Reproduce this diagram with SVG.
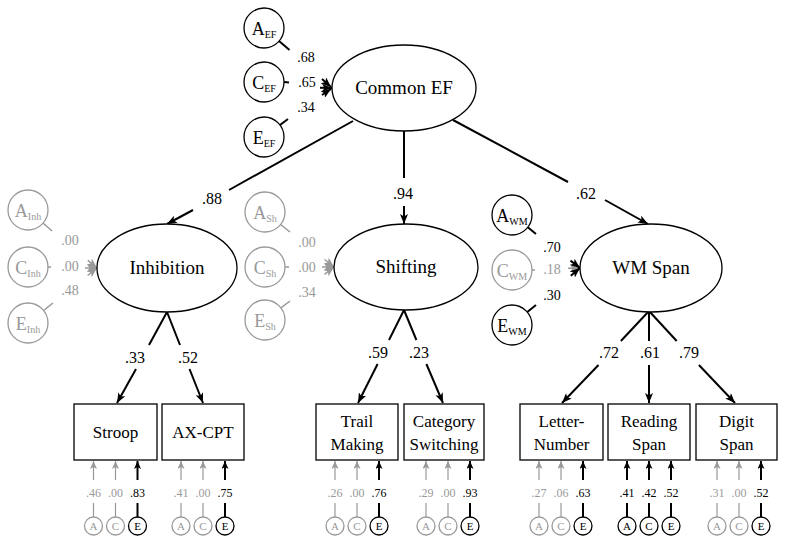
<svg xmlns="http://www.w3.org/2000/svg" width="800" height="544" viewBox="0 0 800 544" font-family="'Liberation Serif', 'DejaVu Serif', 'Times New Roman', serif">
<style>
text{font-family:'Liberation Serif','DejaVu Serif','Times New Roman',serif;fill:#000}
.g{fill:#999}
.node{fill:#fff;stroke:#000;stroke-width:1.3}
.nodeg{fill:#fff;stroke:#999;stroke-width:1.3}
.ln{fill:none;stroke:#000;stroke-width:2}
.lng{fill:none;stroke:#999;stroke-width:1.5}
.thin{fill:none;stroke:#999;stroke-width:1.2}
.lbl{font-size:19px;text-anchor:middle}
.box{font-size:17px;text-anchor:middle}
.coef{font-size:16px;text-anchor:middle}
.ace{font-size:14px;text-anchor:middle}
.res{font-size:12px;text-anchor:middle}
.lat{font-size:18px;text-anchor:middle}
.sm{font-size:11px;text-anchor:middle}
</style>
<defs>
<marker id="ab" markerUnits="userSpaceOnUse" markerWidth="10" markerHeight="8" refX="10" refY="4" orient="auto"><path d="M0,0 L10,4 L0,8 L2.5,4 z" fill="#000"/></marker>
<marker id="ag" markerUnits="userSpaceOnUse" markerWidth="10" markerHeight="8" refX="10" refY="4" orient="auto"><path d="M0,0 L10,4 L0,8 L2.5,4 z" fill="#999"/></marker>
<marker id="sb" markerUnits="userSpaceOnUse" markerWidth="8" markerHeight="7" refX="8" refY="3.5" orient="auto"><path d="M0,0 L8,3.5 L0,7 L2,3.5 z" fill="#000"/></marker>
<marker id="sg" markerUnits="userSpaceOnUse" markerWidth="8" markerHeight="7" refX="8" refY="3.5" orient="auto"><path d="M0,0 L8,3.5 L0,7 L2,3.5 z" fill="#999"/></marker>
</defs>

<g id="connectors">
  <path class="ln" d="M279,41 L289.5,50"/>
  <path class="ln" d="M284,82 L289,82.5"/>
  <path class="ln" d="M280,125 L288,119"/>
  <path class="ln" d="M322,79 L331,87" marker-end="url(#ab)"/>
  <path class="ln" d="M320,87.8 L332,88" marker-end="url(#ab)"/>
  <path class="ln" d="M322,95 L331,89" marker-end="url(#ab)"/>
  <path class="lng" d="M43,223 L52,231"/>
  <path class="lng" d="M48,267 L51,267"/>
  <path class="lng" d="M43.6,310.5 L53,303"/>
  <path class="lng" d="M87.8,260.3 L97,268" marker-end="url(#ag)"/>
  <path class="lng" d="M85,268 L97,268" marker-end="url(#ag)"/>
  <path class="lng" d="M87.6,275.5 L97,268" marker-end="url(#ag)"/>
  <path class="lng" d="M280.6,224.5 L290,232"/>
  <path class="lng" d="M285,267 L289,267"/>
  <path class="lng" d="M280.9,307.8 L290,301"/>
  <path class="lng" d="M324.6,259.5 L334,267" marker-end="url(#ag)"/>
  <path class="lng" d="M322,267 L334,267" marker-end="url(#ag)"/>
  <path class="lng" d="M324.5,274.3 L334,267" marker-end="url(#ag)"/>
  <path class="ln" d="M527.8,227.3 L536,234"/>
  <path class="lng" d="M532,270 L535,270"/>
  <path class="ln" d="M527.3,312.1 L536,305"/>
  <path class="lng" d="M568,268.3 L580,268" marker-end="url(#ag)"/>
  <path class="ln" d="M570.5,260.6 L580,268" marker-end="url(#ab)"/>
  <path class="ln" d="M570.8,275.7 L580,268" marker-end="url(#ab)"/>

  <path class="ln" d="M353,121 L229,190"/>
  <path class="ln" d="M193,210 L167,224" marker-end="url(#ab)"/>
  <path class="ln" d="M404,131 L404,178"/>
  <path class="ln" d="M404,206 L404,224" marker-end="url(#ab)"/>
  <path class="ln" d="M453,120 L568,182"/>
  <path class="ln" d="M605,200 L648,224" marker-end="url(#ab)"/>

  <path class="ln" d="M167,312 L149,345"/>
  <path class="ln" d="M136,369 L117,403" marker-end="url(#ab)"/>
  <path class="ln" d="M167,312 L180,345"/>
  <path class="ln" d="M189.5,369 L203,403" marker-end="url(#ab)"/>
  <path class="ln" d="M404,310 L389,340"/>
  <path class="ln" d="M377.6,364 L358,403" marker-end="url(#ab)"/>
  <path class="ln" d="M404,310 L416.4,340"/>
  <path class="ln" d="M426.4,364 L443,403" marker-end="url(#ab)"/>
  <path class="ln" d="M649,311 L620.9,341"/>
  <path class="ln" d="M598.5,365 L562,403" marker-end="url(#ab)"/>
  <path class="ln" d="M649,311 L649,341"/>
  <path class="ln" d="M649,365 L649,403" marker-end="url(#ab)"/>
  <path class="ln" d="M649,311 L676.7,341"/>
  <path class="ln" d="M698.9,365 L735,403" marker-end="url(#ab)"/>

  <g>
    <path class="thin" d="M93.5,480 V461" marker-end="url(#sg)"/><path class="thin" d="M93.5,503 V517"/>
    <path class="thin" d="M115.5,480 V461" marker-end="url(#sg)"/><path class="thin" d="M115.5,503 V517"/>
    <path class="ln" d="M137.5,480 V461" marker-end="url(#sb)"/><path class="ln" d="M137.5,503 V517"/>
    <path class="thin" d="M181,480 V461" marker-end="url(#sg)"/><path class="thin" d="M181,503 V517"/>
    <path class="thin" d="M203,480 V461" marker-end="url(#sg)"/><path class="thin" d="M203,503 V517"/>
    <path class="ln" d="M225,480 V461" marker-end="url(#sb)"/><path class="ln" d="M225,503 V517"/>
    <path class="thin" d="M335,480 V461" marker-end="url(#sg)"/><path class="thin" d="M335,503 V517"/>
    <path class="thin" d="M357,480 V461" marker-end="url(#sg)"/><path class="thin" d="M357,503 V517"/>
    <path class="ln" d="M379,480 V461" marker-end="url(#sb)"/><path class="ln" d="M379,503 V517"/>
    <path class="thin" d="M426,480 V461" marker-end="url(#sg)"/><path class="thin" d="M426,503 V517"/>
    <path class="thin" d="M448,480 V461" marker-end="url(#sg)"/><path class="thin" d="M448,503 V517"/>
    <path class="ln" d="M470,480 V461" marker-end="url(#sb)"/><path class="ln" d="M470,503 V517"/>
    <path class="thin" d="M539,480 V461" marker-end="url(#sg)"/><path class="thin" d="M539,503 V517"/>
    <path class="thin" d="M561,480 V461" marker-end="url(#sg)"/><path class="thin" d="M561,503 V517"/>
    <path class="ln" d="M583,480 V461" marker-end="url(#sb)"/><path class="ln" d="M583,503 V517"/>
    <path class="ln" d="M627,480 V461" marker-end="url(#sb)"/><path class="ln" d="M627,503 V517"/>
    <path class="ln" d="M649,480 V461" marker-end="url(#sb)"/><path class="ln" d="M649,503 V517"/>
    <path class="ln" d="M671,480 V461" marker-end="url(#sb)"/><path class="ln" d="M671,503 V517"/>
    <path class="thin" d="M717,480 V461" marker-end="url(#sg)"/><path class="thin" d="M717,503 V517"/>
    <path class="thin" d="M739,480 V461" marker-end="url(#sg)"/><path class="thin" d="M739,503 V517"/>
    <path class="ln" d="M761,480 V461" marker-end="url(#sb)"/><path class="ln" d="M761,503 V517"/>
  </g>

  <text class="ace" x="306" y="62">.68</text>
  <text class="ace" x="307" y="87">.65</text>
  <text class="ace" x="306" y="112">.34</text>
  <text class="ace g" x="70" y="245">.00</text>
  <text class="ace g" x="70" y="271">.00</text>
  <text class="ace g" x="70" y="295">.48</text>
  <text class="ace g" x="307" y="247">.00</text>
  <text class="ace g" x="307" y="272">.00</text>
  <text class="ace g" x="307" y="297">.34</text>
  <text class="ace" x="552" y="252">.70</text>
  <text class="ace g" x="552" y="274">.18</text>
  <text class="ace" x="552" y="300">.30</text>

  <text class="coef" x="212" y="204">.88</text>
  <text class="coef" x="403" y="199">.94</text>
  <text class="coef" x="586" y="199">.62</text>
  <text class="coef" x="135" y="363">.33</text>
  <text class="coef" x="188" y="363">.52</text>
  <text class="coef" x="378" y="358">.59</text>
  <text class="coef" x="419" y="358">.23</text>
  <text class="coef" x="609" y="358">.72</text>
  <text class="coef" x="650" y="358">.61</text>
  <text class="coef" x="689" y="358">.79</text>

  <text class="res g" x="93.5" y="497">.46</text><text class="res g" x="115.5" y="497">.00</text><text class="res" x="137.5" y="497">.83</text>
  <text class="res g" x="181" y="497">.41</text><text class="res g" x="203" y="497">.00</text><text class="res" x="225" y="497">.75</text>
  <text class="res g" x="335" y="497">.26</text><text class="res g" x="357" y="497">.00</text><text class="res" x="379" y="497">.76</text>
  <text class="res g" x="426" y="497">.29</text><text class="res g" x="448" y="497">.00</text><text class="res" x="470" y="497">.93</text>
  <text class="res g" x="539" y="497">.27</text><text class="res g" x="561" y="497">.06</text><text class="res" x="583" y="497">.63</text>
  <text class="res" x="627" y="497">.41</text><text class="res" x="649" y="497">.42</text><text class="res" x="671" y="497">.52</text>
  <text class="res g" x="717" y="497">.31</text><text class="res g" x="739" y="497">.00</text><text class="res" x="761" y="497">.52</text>
</g>

<g id="common-ef"><ellipse class="node" cx="404" cy="88" rx="72" ry="43"/><text class="lbl" x="404" y="94">Common EF</text></g>
<g id="inhibition"><ellipse class="node" cx="167" cy="268" rx="70" ry="44"/><text class="lbl" x="167" y="274">Inhibition</text></g>
<g id="shifting"><ellipse class="node" cx="406" cy="267" rx="72" ry="43"/><text class="lbl" x="406" y="273">Shifting</text></g>
<g id="wm-span"><ellipse class="node" cx="651" cy="268" rx="71" ry="44"/><text class="lbl" x="651" y="274">WM Span</text></g>

<g id="a-ef"><circle class="node" cx="264" cy="28" r="20"/><text class="lat" x="264" y="35">A<tspan font-size="10" dy="3">EF</tspan></text></g>
<g id="c-ef"><circle class="node" cx="264" cy="82" r="20"/><text class="lat" x="264" y="89">C<tspan font-size="10" dy="3">EF</tspan></text></g>
<g id="e-ef"><circle class="node" cx="264" cy="137" r="20"/><text class="lat" x="264" y="144">E<tspan font-size="10" dy="3">EF</tspan></text></g>

<g id="a-inh"><circle class="nodeg" cx="28" cy="210" r="20"/><text class="lat g" x="28" y="217">A<tspan font-size="10" dy="3">Inh</tspan></text></g>
<g id="c-inh"><circle class="nodeg" cx="28" cy="267" r="20"/><text class="lat g" x="28" y="274">C<tspan font-size="10" dy="3">Inh</tspan></text></g>
<g id="e-inh"><circle class="nodeg" cx="28" cy="323" r="20"/><text class="lat g" x="28" y="330">E<tspan font-size="10" dy="3">Inh</tspan></text></g>

<g id="a-sh"><circle class="nodeg" cx="265" cy="212" r="20"/><text class="lat g" x="265" y="219">A<tspan font-size="10" dy="3">Sh</tspan></text></g>
<g id="c-sh"><circle class="nodeg" cx="265" cy="267" r="20"/><text class="lat g" x="265" y="274">C<tspan font-size="10" dy="3">Sh</tspan></text></g>
<g id="e-sh"><circle class="nodeg" cx="265" cy="320" r="20"/><text class="lat g" x="265" y="327">E<tspan font-size="10" dy="3">Sh</tspan></text></g>

<g id="a-wm"><circle class="node" cx="512" cy="215" r="20"/><text class="lat" x="512" y="222">A<tspan font-size="10" dy="3">WM</tspan></text></g>
<g id="c-wm"><circle class="nodeg" cx="512" cy="270" r="20"/><text class="lat g" x="512" y="277">C<tspan font-size="10" dy="3">WM</tspan></text></g>
<g id="e-wm"><circle class="node" cx="512" cy="325" r="20"/><text class="lat" x="512" y="332">E<tspan font-size="10" dy="3">WM</tspan></text></g>

<g id="stroop"><rect class="node" x="74" y="404" width="83" height="56"/><text class="box" x="115.5" y="438">Stroop</text></g>
<g id="ax-cpt"><rect class="node" x="162" y="404" width="82" height="56"/><text class="box" x="203" y="438">AX-CPT</text></g>
<g id="trail-making"><rect class="node" x="316" y="404" width="82" height="56"/><text class="box" x="357" y="427">Trail</text><text class="box" x="357" y="450">Making</text></g>
<g id="category-switching"><rect class="node" x="404" y="404" width="80" height="56"/><text class="box" x="444" y="427">Category</text><text class="box" x="444" y="450">Switching</text></g>
<g id="letter-number"><rect class="node" x="520" y="404" width="83" height="56"/><text class="box" x="561.5" y="427">Letter-</text><text class="box" x="561.5" y="450">Number</text></g>
<g id="reading-span"><rect class="node" x="608" y="404" width="82" height="56"/><text class="box" x="649" y="427">Reading</text><text class="box" x="649" y="450">Span</text></g>
<g id="digit-span"><rect class="node" x="696" y="404" width="81" height="56"/><text class="box" x="736.5" y="427">Digit</text><text class="box" x="736.5" y="450">Span</text></g>

<g id="residuals">
  <circle class="nodeg" cx="93.5" cy="526" r="9"/><text class="sm g" x="93.5" y="530">A</text>
  <circle class="nodeg" cx="115.5" cy="526" r="9"/><text class="sm g" x="115.5" y="530">C</text>
  <circle class="node" cx="137.5" cy="526" r="9"/><text class="sm" x="137.5" y="530">E</text>
  <circle class="nodeg" cx="181" cy="526" r="9"/><text class="sm g" x="181" y="530">A</text>
  <circle class="nodeg" cx="203" cy="526" r="9"/><text class="sm g" x="203" y="530">C</text>
  <circle class="node" cx="225" cy="526" r="9"/><text class="sm" x="225" y="530">E</text>
  <circle class="nodeg" cx="335" cy="526" r="9"/><text class="sm g" x="335" y="530">A</text>
  <circle class="nodeg" cx="357" cy="526" r="9"/><text class="sm g" x="357" y="530">C</text>
  <circle class="node" cx="379" cy="526" r="9"/><text class="sm" x="379" y="530">E</text>
  <circle class="nodeg" cx="426" cy="526" r="9"/><text class="sm g" x="426" y="530">A</text>
  <circle class="nodeg" cx="448" cy="526" r="9"/><text class="sm g" x="448" y="530">C</text>
  <circle class="node" cx="470" cy="526" r="9"/><text class="sm" x="470" y="530">E</text>
  <circle class="nodeg" cx="539" cy="526" r="9"/><text class="sm g" x="539" y="530">A</text>
  <circle class="nodeg" cx="561" cy="526" r="9"/><text class="sm g" x="561" y="530">C</text>
  <circle class="node" cx="583" cy="526" r="9"/><text class="sm" x="583" y="530">E</text>
  <circle class="node" cx="627" cy="526" r="9"/><text class="sm" x="627" y="530">A</text>
  <circle class="node" cx="649" cy="526" r="9"/><text class="sm" x="649" y="530">C</text>
  <circle class="node" cx="671" cy="526" r="9"/><text class="sm" x="671" y="530">E</text>
  <circle class="nodeg" cx="717" cy="526" r="9"/><text class="sm g" x="717" y="530">A</text>
  <circle class="nodeg" cx="739" cy="526" r="9"/><text class="sm g" x="739" y="530">C</text>
  <circle class="node" cx="761" cy="526" r="9"/><text class="sm" x="761" y="530">E</text>
</g>
</svg>
